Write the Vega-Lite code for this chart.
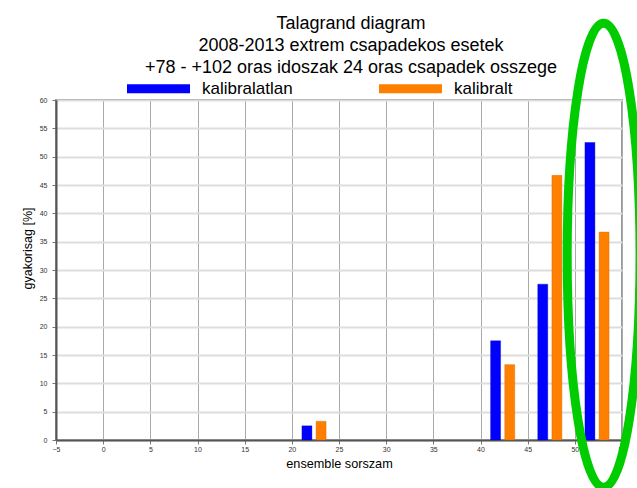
{
  "$schema": "https://vega.github.io/schema/vega-lite/v6.json",
  "width": 566,
  "height": 340,
  "autosize": "none",
  "padding": {"left": 56, "top": 100, "right": 15, "bottom": 48},
  "background": "white",
  "config": {
    "font": "Liberation Sans",
    "view": {"stroke": "#999999", "strokeWidth": 2},
    "axis": {"labelFont": "Liberation Sans", "titleFont": "Liberation Sans"}
  },
  "title": {
    "text": ["Talagrand diagram", "2008-2013 extrem csapadekos esetek", "+78 - +102 oras idoszak 24 oras csapadek osszege"],
    "fontSize": 18,
    "fontWeight": "normal",
    "color": "black",
    "lineHeight": 22,
    "anchor": "middle",
    "dx": 12,
    "offset": -72
  },
  "datasets": {
    "bars": [
      {"sorszam": 21.6, "gyakorisag": 2.5, "tipus": "kalibralatlan"},
      {"sorszam": 41.6, "gyakorisag": 17.5, "tipus": "kalibralatlan"},
      {"sorszam": 46.6, "gyakorisag": 27.5, "tipus": "kalibralatlan"},
      {"sorszam": 51.6, "gyakorisag": 52.5, "tipus": "kalibralatlan"},
      {"sorszam": 23.1, "gyakorisag": 3.3, "tipus": "kalibralt"},
      {"sorszam": 43.1, "gyakorisag": 13.3, "tipus": "kalibralt"},
      {"sorszam": 48.1, "gyakorisag": 46.7, "tipus": "kalibralt"},
      {"sorszam": 53.1, "gyakorisag": 36.7, "tipus": "kalibralt"}
    ],
    "jeloles": [
      {"sorszam": 53.05, "gyakorisag": 32.6}
    ]
  },
  "encoding": {
    "x": {
      "field": "sorszam",
      "type": "quantitative",
      "scale": {"domain": [-5, 55], "nice": false, "zero": false, "padding": 0},
      "axis": {
        "title": "ensemble sorszam",
        "values": [-5, 0, 5, 10, 15, 20, 25, 30, 35, 40, 45, 50, 55],
        "grid": true,
        "gridColor": "#aaaaaa",
        "gridWidth": 1,
        "domainColor": "#555555",
        "domainWidth": 2,
        "tickColor": "#777777",
        "tickSize": 4,
        "labelFontSize": 7,
        "labelColor": "#333333",
        "labelPadding": 1,
        "labelFlush": false,
        "labelOverlap": false,
        "titleFontSize": 12.7,
        "titleFontWeight": "normal",
        "titleColor": "black",
        "titlePadding": 5
      }
    },
    "y": {
      "field": "gyakorisag",
      "type": "quantitative",
      "scale": {"domain": [0, 60], "nice": false, "zero": true, "padding": 0},
      "axis": {
        "title": "gyakorisag [%]",
        "values": [0, 5, 10, 15, 20, 25, 30, 35, 40, 45, 50, 55, 60],
        "grid": true,
        "gridColor": "#dddddd",
        "gridWidth": 2,
        "domainColor": "#555555",
        "domainWidth": 2,
        "tickColor": "#777777",
        "tickSize": 4,
        "labelFontSize": 7,
        "labelColor": "#333333",
        "labelPadding": 5,
        "labelOverlap": false,
        "titleFontSize": 12.5,
        "titleFontWeight": "normal",
        "titleColor": "black",
        "titlePadding": 5,
        "titleY": 148
      }
    }
  },
  "layer": [
    {
      "data": {"name": "bars"},
      "mark": {"type": "bar", "size": 10, "strokeWidth": 0.6, "strokeOpacity": 0.6},
      "encoding": {
        "color": {
          "field": "tipus",
          "type": "nominal",
          "scale": {"domain": ["kalibralatlan", "kalibralt"], "range": ["#0000ff", "#ff8000"]},
          "legend": {
            "title": null,
            "orient": "none",
            "direction": "horizontal",
            "legendX": 71,
            "legendY": -43,
            "padding": 0,
            "symbolType": "M-1,-0.143L1,-0.143L1,0.143L-1,0.143Z",
            "symbolSize": 3969,
            "symbolStrokeWidth": 0,
            "symbolOpacity": 1,
            "labelFontSize": 17,
            "labelColor": "black",
            "labelOffset": 12,
            "columnPadding": 86
          }
        },
        "stroke": {
          "field": "tipus",
          "type": "nominal",
          "scale": {"domain": ["kalibralatlan", "kalibralt"], "range": ["#0000aa", "#cc6600"]},
          "legend": null
        }
      }
    },
    {
      "data": {"name": "jeloles"},
      "mark": {
        "type": "point",
        "shape": "M0,-1A0.157,1 0 1,1 0,1A0.157,1 0 1,1 0,-1Z",
        "size": 215296,
        "filled": false,
        "stroke": "#00cc00",
        "strokeWidth": 9,
        "opacity": 1,
        "clip": false
      }
    }
  ]
}
